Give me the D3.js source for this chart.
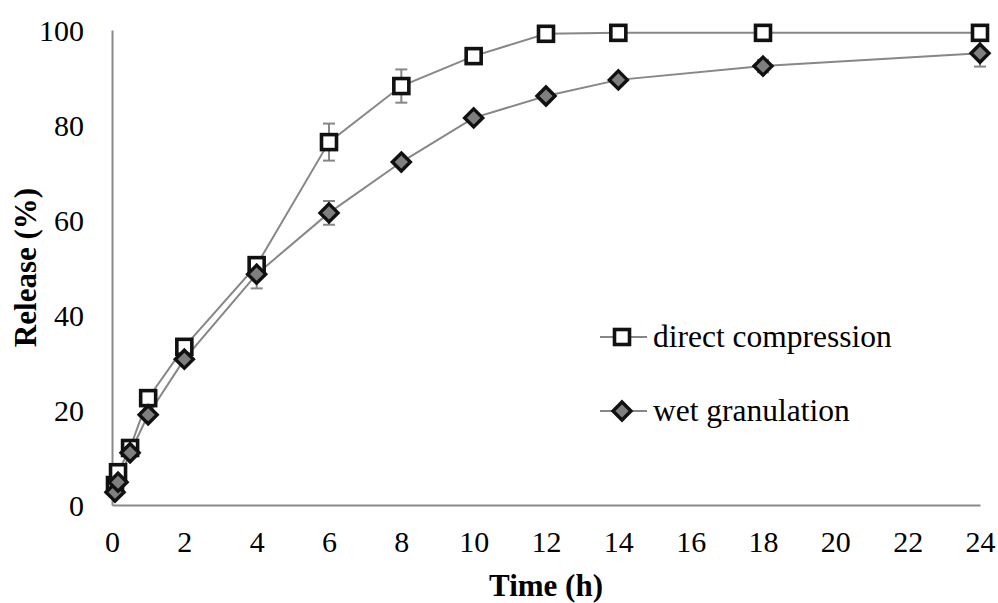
<!DOCTYPE html>
<html>
<head>
<meta charset="utf-8">
<script src="https://cdn.jsdelivr.net/npm/d3@7"></script>
<style>
  body { margin: 0; background: #fff; }
  svg text { font-family: "Liberation Serif", "Times New Roman", serif; }
</style>
</head>
<body>
<div id="chart"></div>
<script>
// sampling times (h)
var times = [0.083, 0.167, 0.5, 1, 2, 4, 6, 8, 10, 12, 14, 18, 24];
// release (%) per formulation
var directValues = [4.2, 6.9, 12, 22.5, 33.3, 50.5, 76.4, 88.2, 94.5, 99.2, 99.4, 99.4, 99.4];
var directErr    = [0, 0, 0, 0, 0, 0, 3.9, 3.5, 1, 0.5, 0.3, 0.3, 0.3];
var wetValues    = [2.7, 4.8, 11, 19, 30.7, 48.6, 61.5, 72.2, 81.5, 86.1, 89.5, 92.4, 95.1];
var wetErr       = [0, 0, 0.5, 0.5, 0.5, 3, 2.5, 0.5, 0.5, 0.5, 0.5, 1.3, 2.8];
var xTicks = [0, 2, 4, 6, 8, 10, 12, 14, 16, 18, 20, 22, 24];
var yTicks = [0, 20, 40, 60, 80, 100];
var seriesNames = ["direct compression", "wet granulation"];

var width = 998, height = 603;
var margin = {left: 112, right: 18, top: 30, bottom: 98};

var svg = d3.select("#chart").append("svg")
    .attr("width", width)
    .attr("height", height);

var x = d3.scaleLinear().domain([0, 24]).range([margin.left, width - margin.right]);
var y = d3.scaleLinear().domain([0, 100]).range([height - margin.bottom, margin.top]);

var axisColor = "#898989";
var lineColor = "#878787";

// axes (no tick marks, just labels)
var xAxis = svg.append("g")
    .attr("transform", "translate(0," + y(0) + ")")
    .call(d3.axisBottom(x).tickValues(xTicks).tickSize(0).tickPadding(26));
var yAxis = svg.append("g")
    .attr("transform", "translate(" + x(0) + ",0)")
    .call(d3.axisLeft(y).tickValues(yTicks).tickSize(0).tickPadding(28));

[xAxis, yAxis].forEach(function (ax) {
    ax.select(".domain").attr("stroke", axisColor).attr("stroke-width", 2);
    ax.selectAll("text")
        .style("font-family", "'Liberation Serif', 'Times New Roman', serif")
        .style("font-size", "30px")
        .attr("fill", "#000");
});
xAxis.selectAll("text").attr("dy", "0.71em");
yAxis.selectAll("text").attr("dy", "0.34em");

// axis titles
svg.append("text")
    .attr("x", (x(0) + x(24)) / 2)
    .attr("y", 596)
    .attr("text-anchor", "middle")
    .style("font-size", "31px")
    .style("font-weight", "bold")
    .text("Time (h)");

svg.append("text")
    .attr("transform", "translate(36," + y(50) + ") rotate(-90)")
    .attr("text-anchor", "middle")
    .style("font-size", "31px")
    .style("font-weight", "bold")
    .text("Release (%)");

function makeData(vals, errs) {
    return times.map(function (t, i) {
        return {t: t, v: vals[i], e: errs[i]};
    });
}

var direct = makeData(directValues, directErr);
var wet = makeData(wetValues, wetErr);

var line = d3.line().x(d => x(d.t)).y(d => y(d.v));

function drawErrors(data) {
    var g = svg.append("g").attr("stroke", lineColor).attr("stroke-width", 2);
    data.filter(d => d.e > 0).forEach(function (d) {
        var cx = x(d.t);
        g.append("line").attr("x1", cx).attr("x2", cx).attr("y1", y(d.v - d.e)).attr("y2", y(d.v + d.e));
        g.append("line").attr("x1", cx - 6).attr("x2", cx + 6).attr("y1", y(d.v - d.e)).attr("y2", y(d.v - d.e));
        g.append("line").attr("x1", cx - 6).attr("x2", cx + 6).attr("y1", y(d.v + d.e)).attr("y2", y(d.v + d.e));
    });
}

drawErrors(direct);
drawErrors(wet);

svg.append("path").datum(direct)
    .attr("fill", "none").attr("stroke", lineColor).attr("stroke-width", 2)
    .attr("d", line);
svg.append("path").datum(wet)
    .attr("fill", "none").attr("stroke", lineColor).attr("stroke-width", 2)
    .attr("d", line);

var sq = 15;
function square(g, cx, cy) {
    g.append("rect")
        .attr("x", cx - sq / 2).attr("y", cy - sq / 2)
        .attr("width", sq).attr("height", sq)
        .attr("fill", "#fff").attr("stroke", "#111").attr("stroke-width", 3.6);
}
function diamond(g, cx, cy) {
    var r = 9;
    g.append("path")
        .attr("d", "M" + cx + "," + (cy - r) + "L" + (cx + r) + "," + cy + "L" + cx + "," + (cy + r) + "L" + (cx - r) + "," + cy + "Z")
        .attr("fill", "#7f7f7f").attr("stroke", "#111").attr("stroke-width", 3.4)
        .attr("stroke-linejoin", "miter");
}

var gSq = svg.append("g");
direct.forEach(d => square(gSq, x(d.t), y(d.v)));
var gDi = svg.append("g");
wet.forEach(d => diamond(gDi, x(d.t), y(d.v)));

// legend
var legend = svg.append("g");
var legY = [337, 411];
seriesNames.forEach(function (name, i) {
    legend.append("line")
        .attr("x1", 600).attr("x2", 647)
        .attr("y1", legY[i]).attr("y2", legY[i])
        .attr("stroke", lineColor).attr("stroke-width", 2);
    if (i == 0) square(legend, 622, legY[i]);
    else diamond(legend, 622, legY[i]);
    legend.append("text")
        .attr("x", 653).attr("y", legY[i] + 10)
        .style("font-size", "31.5px")
        .text(name);
});
</script>
</body>
</html>
